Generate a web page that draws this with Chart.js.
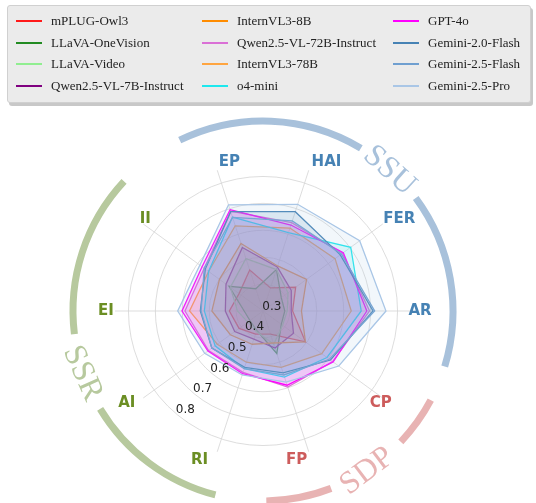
<!DOCTYPE html>
<html>
<head>
<meta charset="utf-8">
<script src="https://cdn.jsdelivr.net/npm/chart.js@4.4.0/dist/chart.umd.min.js"></script>
<style>
  body { margin: 0; background: #fff; }
  #wrap { position: relative; width: 536px; height: 503px; }
  #chart { position: absolute; left: 0; top: 0; }
  #legend {
    position: absolute; left: 7px; top: 5px; width: 522px; height: 96px;
    background: #ebebeb; border: 1px solid #d0d0d0; border-radius: 3px;
    box-shadow: 2px 3px 0 #c8c8c8;
    font-family: "Liberation Serif", serif; font-size: 13px; color: #222;
  }
  .item { position: absolute; height: 16px; line-height: 16px; white-space: nowrap; }
  .item i { position: absolute; left: 0; top: 7px; width: 26px; height: 2px; }
  .item span { position: absolute; left: 35px; top: 0; }
</style>
</head>
<body>
<div id="wrap">
  <canvas id="chart" width="536" height="503"></canvas>
  <div id="legend"></div>
</div>
<script>
// axes, clockwise from EP
const axisLabels = ['EP', 'HAI', 'FER', 'AR', 'CP', 'FP', 'RI', 'AI', 'EI', 'II'];
const axisGroup = ['SSU', 'SSU', 'SSU', 'SSU', 'SDP', 'SDP', 'SSR', 'SSR', 'SSR', 'SSR'];
const tickValues = [0.3, 0.4, 0.5, 0.6, 0.7, 0.8];

const modelNames = [
  'mPLUG-Owl3', 'LLaVA-OneVision', 'LLaVA-Video', 'Qwen2.5-VL-7B-Instruct',
  'InternVL3-8B', 'Qwen2.5-VL-72B-Instruct', 'InternVL3-78B', 'o4-mini',
  'GPT-4o', 'Gemini-2.0-Flash', 'Gemini-2.5-Flash', 'Gemini-2.5-Pro'
];
const modelColors = [
  '#ff1a1a', '#228b22', '#90ee90', '#800080',
  '#ff8c00', '#da70d6', '#ffa540', '#1ee8ee',
  '#ff00ff', '#4682b4', '#6f9fd0', '#a9c6e6'
];

// scores per axis (EP, HAI, FER, AR, CP, FP, RI, AI, EI, II)
const mplugOwl3     = [0.46, 0.39, 0.45, 0.41, 0.495, 0.39, 0.39, 0.41, 0.425, 0.41];
const llavaOneVision = [0.387, 0.462, 0.384, 0.381, 0.384, 0.466, 0.376, 0.36, 0.37, 0.456];
const llavaVideo    = [0.505, 0.462, 0.415, 0.39, 0.39, 0.43, 0.38, 0.37, 0.395, 0.45];
const qwen7b        = [0.548, 0.472, 0.43, 0.405, 0.44, 0.445, 0.41, 0.43, 0.44, 0.47];
const internvl8b    = [0.564, 0.476, 0.50, 0.443, 0.495, 0.425, 0.43, 0.45, 0.49, 0.50];
const qwen72b       = [0.69, 0.645, 0.665, 0.696, 0.62, 0.597, 0.54, 0.55, 0.59, 0.57];
const internvl78b   = [0.633, 0.624, 0.631, 0.628, 0.57, 0.52, 0.50, 0.51, 0.573, 0.55];
const o4mini        = [0.667, 0.606, 0.703, 0.665, 0.594, 0.558, 0.525, 0.52, 0.518, 0.55];
const gpt4o         = [0.696, 0.636, 0.669, 0.686, 0.622, 0.59, 0.545, 0.553, 0.601, 0.58];
const gemini20flash = [0.688, 0.688, 0.655, 0.709, 0.61, 0.542, 0.52, 0.535, 0.533, 0.565];
const gemini25flash = [0.666, 0.652, 0.66, 0.715, 0.605, 0.55, 0.525, 0.535, 0.53, 0.57];
const gemini25pro   = [0.715, 0.717, 0.744, 0.757, 0.648, 0.578, 0.55, 0.568, 0.617, 0.59];

const modelValues = [
  mplugOwl3, llavaOneVision, llavaVideo, qwen7b, internvl8b, qwen72b,
  internvl78b, o4mini, gpt4o, gemini20flash, gemini25flash, gemini25pro
];

const groupTextColor = { SSU: '#4682b4', SDP: '#cd5c5c', SSR: '#6b8e23' };
const groupArcColor = { SSU: '#a8c1db', SDP: '#e8b3b3', SSR: '#b7c99e' };

function rgba(hex, a) {
  const n = parseInt(hex.slice(1), 16);
  return 'rgba(' + (n >> 16) + ',' + ((n >> 8) & 255) + ',' + (n & 255) + ',' + a + ')';
}

// legend, 3 columns of 4
const legend = document.getElementById('legend');
const colX = [8, 194, 385];
const rowY = [7, 29, 50, 72];
modelNames.forEach(function (name, i) {
  const d = document.createElement('div');
  d.className = 'item';
  d.style.left = colX[Math.floor(i / 4)] + 'px';
  d.style.top = rowY[i % 4] + 'px';
  d.innerHTML = '<i style="background:' + modelColors[i] + '"></i><span>' + name + '</span>';
  legend.appendChild(d);
});

function rad(deg) { return (deg - 90) * Math.PI / 180; }

const decor = {
  id: 'decor',
  afterDatasetsDraw(chart) {
    const s = chart.scales.r;
    const ctx = chart.ctx;
    const cx = s.xCenter, cy = s.yCenter;
    ctx.save();

    // radial tick labels, along the 220 degree direction
    const a = 220 * Math.PI / 180;
    const ux = Math.sin(a), uy = -Math.cos(a);
    ctx.font = '12px "DejaVu Sans"';
    ctx.fillStyle = '#222';
    ctx.textAlign = 'center';
    ctx.textBaseline = 'middle';
    tickValues.forEach(function (v) {
      const d = s.getDistanceFromCenterForValue(v) - 9;
      ctx.fillText(v.toFixed(1), cx + d * ux + 3, cy + d * uy + 2.5);
    });

    // axis labels
    ctx.font = 'bold 15px "DejaVu Sans"';
    axisLabels.forEach(function (lab, i) {
      const p = s.getPointPosition(i, s.drawingArea + 9);
      ctx.fillStyle = groupTextColor[axisGroup[i]];
      ctx.fillText(lab, p.x - 0.1 * (p.y - cy), p.y);
    });

    // group arcs + names
    const R = s.drawingArea + 42;
    const groups = [
      { name: 'SSU', spans: [[-26, 31], [53.5, 107]], at: 42, rot: 42 },
      { name: 'SDP', spans: [[118, 133.5], [159, 179]], at: 147, rot: -37 },
      { name: 'SSR', spans: [[194.5, 239], [263, 313]], at: 251, rot: 66 }
    ];
    ctx.lineWidth = 7;
    ctx.lineCap = 'butt';
    groups.forEach(function (g) {
      ctx.strokeStyle = groupArcColor[g.name];
      g.spans.forEach(function (sp) {
        ctx.beginPath();
        ctx.arc(cx, cy, R, rad(sp[0]), rad(sp[1]));
        ctx.stroke();
      });
      ctx.save();
      ctx.translate(cx + R * Math.cos(rad(g.at)), cy + R * Math.sin(rad(g.at)));
      ctx.rotate(g.rot * Math.PI / 180);
      ctx.font = '32px "Liberation Serif"';
      ctx.fillStyle = groupArcColor[g.name];
      ctx.fillText(g.name, 0, 1);
      ctx.restore();
    });
    ctx.restore();
  }
};

Chart.defaults.font.family = '"DejaVu Sans"';

new Chart(document.getElementById('chart').getContext('2d'), {
  type: 'radar',
  data: {
    labels: axisLabels,
    datasets: modelNames.map(function (name, i) {
      return {
        label: name,
        data: modelValues[i],
        borderColor: modelColors[i],
        backgroundColor: rgba(modelColors[i], 0.15),
        borderWidth: 1.3,
        pointRadius: 0,
        fill: true,
        order: modelNames.length - i
      };
    })
  },
  options: {
    responsive: false,
    animation: false,
    layout: { padding: { left: 115, right: 124, top: 163, bottom: 43 } },
    elements: { line: { tension: 0 } },
    plugins: { legend: { display: false }, tooltip: { enabled: false } },
    scales: {
      r: {
        min: 0.3,
        max: 0.85,
        startAngle: -18,
        ticks: { display: false, stepSize: 0.1 },
        pointLabels: { display: false },
        grid: {
          circular: true,
          lineWidth: 0.8,
          color: function (c) { return c.tick && c.tick.value > 0.81 ? 'rgba(0,0,0,0)' : '#d4d4d4'; }
        },
        angleLines: { color: '#d4d4d4', lineWidth: 0.8 }
      }
    }
  },
  plugins: [decor]
});
</script>
</body>
</html>
